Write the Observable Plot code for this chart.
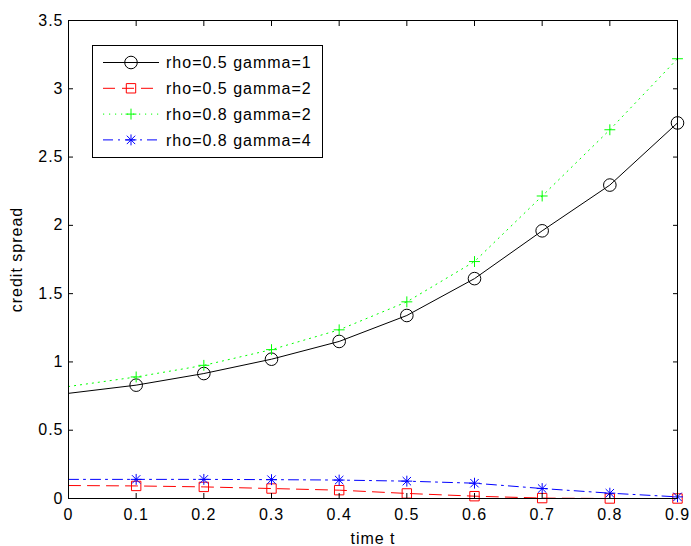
<!DOCTYPE html>
<html><head><meta charset="utf-8">
<script src="https://cdn.jsdelivr.net/npm/d3@7"></script>
<script src="https://cdn.jsdelivr.net/npm/@observablehq/plot@0.6"></script>
<style>
body{margin:0;background:#fff;}
#wrap{position:relative;width:691px;height:546px;background:#fff;}
#legend{position:absolute;left:92px;top:45px;}
</style></head><body><div id="wrap"></div>
<script>
// ---- data ----
const times = [0, 0.1, 0.2, 0.3, 0.4, 0.5, 0.6, 0.7, 0.8, 0.9];
const rho05gamma1 = [0.77, 0.83, 0.915, 1.02, 1.15, 1.34, 1.61, 1.96, 2.295, 2.75];
const rho05gamma2 = [0.095, 0.092, 0.085, 0.073, 0.061, 0.037, 0.017, 0.003, 0.0, 0.0];
const rho08gamma2 = [0.82, 0.89, 0.975, 1.09, 1.235, 1.44, 1.735, 2.215, 2.70, 3.22];
const rho08gamma4 = [0.14, 0.14, 0.14, 0.138, 0.135, 0.127, 0.112, 0.073, 0.039, 0.012];
const seriesNames = ["rho=0.5 gamma=1", "rho=0.5 gamma=2", "rho=0.8 gamma=2", "rho=0.8 gamma=4"];
const xTicks = [0, 0.1, 0.2, 0.3, 0.4, 0.5, 0.6, 0.7, 0.8, 0.9];
const yTicks = [0, 0.5, 1, 1.5, 2, 2.5, 3, 3.5];
const xTickLabels = ["0", "0.1", "0.2", "0.3", "0.4", "0.5", "0.6", "0.7", "0.8", "0.9"];
const yTickLabels = ["0", "0.5", "1", "1.5", "2", "2.5", "3", "3.5"];

// ---- styles ----
const colors = ["#000000", "#ff0000", "#00ff00", "#0000ff"];
const dashes = [null, "12,7", "1.2,4.8", "10,5,2,5"];
const symbolSets = [["circle"], ["square"], ["plus"], ["plus", "times"]];
const symbolR = {circle: 6.3, square: 5.3, plus: 3.6, times: 3.9};

const allValues = [rho05gamma1, rho05gamma2, rho08gamma2, rho08gamma4];
const series = allValues.map((vals, i) => times.map((t, j) => ({t, v: vals[j], k: seriesNames[i]})));

const marks = [];
series.forEach((rows, i) => {
  marks.push(Plot.line(rows, {x: "t", y: "v", stroke: colors[i], strokeWidth: 1, strokeDasharray: dashes[i]}));
  symbolSets[i].forEach(sym => {
    marks.push(Plot.dot(rows.filter(d => d.t > 0), {x: "t", y: "v", symbol: sym, r: symbolR[sym], stroke: colors[i], fill: "none", strokeWidth: 1}));
  });
});

const fmtX = d => xTickLabels[xTicks.indexOf(d)];
const fmtY = d => yTickLabels[yTicks.indexOf(d)];

const chart = Plot.plot({
  width: 691, height: 546,
  marginLeft: 68, marginRight: 14, marginTop: 20, marginBottom: 48,
  style: {fontFamily: "'Liberation Sans', Arial, sans-serif", fontSize: "16px", letterSpacing: "1px", background: "#fff", color: "#000"},
  x: {domain: [0, 0.9]},
  y: {domain: [0, 3.5]},
  marks: [
    ...marks,
    Plot.frame({stroke: "#000", strokeWidth: 1}),
    Plot.axisX({anchor: "bottom", ticks: xTicks, tickSize: -5, tickPadding: 15, tickFormat: fmtX, label: "time t", labelAnchor: "center", labelArrow: "none"}),
    Plot.axisX({anchor: "top", ticks: xTicks, tickSize: -5, tickFormat: () => "", label: null}),
    Plot.axisY({anchor: "left", ticks: yTicks, tickSize: -5, tickPadding: 10, tickFormat: fmtY, label: "credit spread", labelAnchor: "center", labelArrow: "none", labelOffset: 58}),
    Plot.axisY({anchor: "right", ticks: yTicks, tickSize: -5, tickFormat: () => "", label: null})
  ]
});
const wrap = document.getElementById("wrap");
wrap.appendChild(chart);

// ---- legend ----
const lw = 231, lh = 113;
const leg = d3.select(wrap).append("svg").attr("id", "legend").attr("width", lw).attr("height", lh)
  .style("font-family", "'Liberation Sans', Arial, sans-serif").style("font-size", "16px").style("letter-spacing", "1px");
leg.append("rect").attr("x", 0.5).attr("y", 0.5).attr("width", lw - 1).attr("height", lh - 1).attr("fill", "#fff").attr("stroke", "#000");
const symMap = {circle: d3.symbolCircle, square: d3.symbolSquare, plus: d3.symbolPlus, times: d3.symbolTimes};
seriesNames.forEach((name, i) => {
  const cy = 17.5 + i * 25.8;
  const g = leg.append("g");
  g.append("line").attr("x1", 11).attr("x2", 67).attr("y1", cy).attr("y2", cy)
    .attr("stroke", colors[i]).attr("stroke-width", 1).attr("stroke-dasharray", dashes[i]);
  symbolSets[i].forEach(sym => {
    g.append("path").attr("transform", `translate(39,${cy})`)
      .attr("d", d3.symbol(symMap[sym], Math.PI * symbolR[sym] ** 2)())
      .attr("fill", "none").attr("stroke", colors[i]);
  });
  g.append("text").attr("x", 74).attr("y", cy).attr("dy", "0.36em").text(name);
});
</script>
</body></html>
